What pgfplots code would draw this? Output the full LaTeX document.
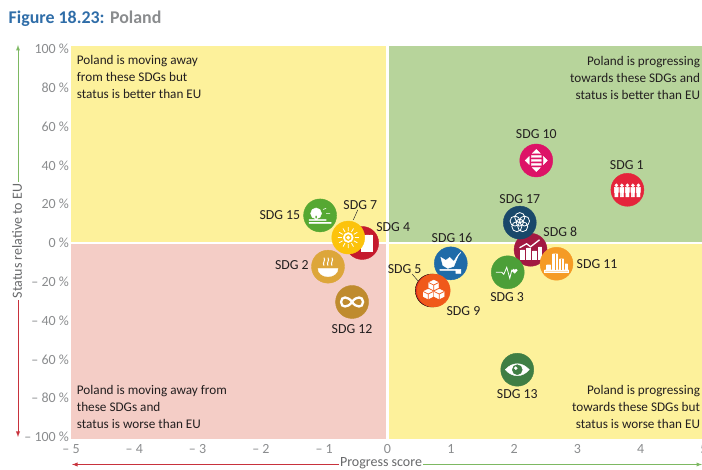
\documentclass[border=0pt]{standalone}
\usepackage{pgfplots}
\pgfplotsset{compat=1.18}
\usepackage{fontspec}
\setmainfont{Carlito}
\definecolor{qy}{HTML}{FDF19B}
\definecolor{qg}{HTML}{B7D49B}
\definecolor{qr}{HTML}{F4CDC6}
\definecolor{tk}{HTML}{8A8C8E}
\definecolor{lab}{HTML}{231F20}
\definecolor{arG}{HTML}{7DB862}
\definecolor{arR}{HTML}{C8323C}
\definecolor{sA}{HTML}{E5243B}\definecolor{sB}{HTML}{DDA63A}\definecolor{sC}{HTML}{4C9F38}
\definecolor{sD}{HTML}{C5192D}\definecolor{sE}{HTML}{E0311F}\definecolor{sF}{HTML}{FCC30B}
\definecolor{sG}{HTML}{A21942}\definecolor{sH}{HTML}{F0591A}\definecolor{sI}{HTML}{DD1367}
\definecolor{sJ}{HTML}{F59B25}\definecolor{sK}{HTML}{BF8B2E}\definecolor{sL}{HTML}{3F7E44}
\definecolor{sM}{HTML}{56A832}\definecolor{sN}{HTML}{1F6BA8}\definecolor{sO}{HTML}{19486A}
\tikzset{
 lb/.style={text=lab,font=\fontsize{13.8}{15}\selectfont,inner sep=0pt},
 qt/.style={text=lab,font=\fontsize{13.2}{17}\selectfont,inner sep=0pt},
 ic1/.pic={\fill[white] \foreach \a in {-11,-5.5,0,5.5,11}{ (\a,4.5) circle (1.6) (\a-2,2.5) rectangle (\a+2,-2.5) (\a-1.6,-2.5) rectangle (\a-.3,-7) (\a+.3,-2.5) rectangle (\a+1.6,-7)};},
 ic2/.pic={\fill[white] (-10,-2) arc (180:360:10 and 8) -- cycle;
   \draw[white,line width=1pt] \foreach \a in {-4,0,4}{(\a,1) .. controls (\a-2,4) and (\a+2,6) .. (\a,9)};},
 ic3/.pic={\draw[white,line width=.8pt] (-12,0)--(-6,0)--(-4,-2)--(-1,5)--(2,-6)--(4,2)--(6,0);\fill[white] (7,-1) -- (4.5,2) arc (180:0:1.25) arc (180:0:1.25) -- cycle;},
 ic4/.pic={\fill[white] (-1,-8) rectangle (3,8) (4,-8) rectangle (7,8) (8,-8) rectangle (10,8);},
 ic7/.pic={\fill[white] (0,0) circle (5);\fill[sF] (0,0) circle (3);\fill[white] (0,0) circle (1.7);
   \draw[white,line width=.8pt] \foreach \a in {0,30,...,330}{(\a:6.5)--(\a:10.5)};},
 ic8/.pic={\fill[white] (-10,-9) rectangle (-6,0) (-4,-9) rectangle (0,2) (2,-9) rectangle (6,-1) (8,-9) rectangle (11,3);
   \draw[white,line width=1.3pt] (-11,2)--(-4,6)--(0,3)--(9,10);},
 ic9/.pic={\fill[white] \foreach \a/\b in {0/5.5,-5.5/-3.5,5.5/-3.5}{(\a,\b+5)--(\a+5,\b+2.5)--(\a+5,\b-2.5)--(\a,\b-5)--(\a-5,\b-2.5)--(\a-5,\b+2.5)--cycle};
   \draw[sH,line width=.7pt] \foreach \a/\b in {0/5.5,-5.5/-3.5,5.5/-3.5}{(\a-5,\b+2.5)--(\a,\b)--(\a+5,\b+2.5) (\a,\b)--(\a,\b-5)};},
 ic10/.pic={\fill[white] (-5,-5) rectangle (5,-3) (-5,-1) rectangle (5,1) (-5,3) rectangle (5,5)
   (-11,0)--(-7,4)--(-7,-4)--cycle (11,0)--(7,4)--(7,-4)--cycle (0,11)--(4,7)--(-4,7)--cycle (0,-11)--(4,-7)--(-4,-7)--cycle;},
 ic11/.pic={\fill[white] (-12,-8) rectangle (12,-6) (-10,-6) rectangle (-6,-1) (-4,-6) rectangle (1,10) (3,-6) rectangle (7,5) (8.5,-6) rectangle (11,0);
   \draw[sJ,line width=.5pt] (-1.5,-6)--(-1.5,10) (5,-6)--(5,5);},
 ic12/.pic={\draw[white,line width=2.3pt] (0,0) .. controls (4,6) and (11,6) .. (11,0) .. controls (11,-6) and (4,-6) .. (0,0) .. controls (-4,6) and (-11,6) .. (-11,0) .. controls (-11,-6) and (-4,-6) .. (0,0);},
 ic13/.pic={\fill[white] (-12,0) .. controls (-5,8) and (5,8) .. (12,0) .. controls (5,-8) and (-5,-8) .. (-12,0);\fill[sL] (0,0) circle (5);\fill[white] (-1.5,1.5) circle (1.5);},
 ic15/.pic={\fill[white] (-4,2) circle (5.5) (-5,-5) rectangle (-3,0) (-11,-5) rectangle (6,-4.2) (-11,-8) rectangle (11,-6.8);
   \draw[white,line width=.6pt] (3,6)--(6,7) (6,2)--(10,2);},
 ic16/.pic={\fill[white] (-10,6)--(-5,3)--(-1,6)--(3,2)--(8,9)--(3,-3)--(-3,-5)--(-8,-2)--cycle (-11,-7) rectangle (6,-6) (5,-10) rectangle (10,-6);
   \draw[white,line width=.7pt] (5,5)--(10,11);},
 ic17/.pic={\draw[white,line width=.8pt] (0,0) circle (3.5) \foreach \a in {90,162,234,306,378}{(\a:5) circle (5)};},
}
\newcommand{\defmark}[2]{\pgfdeclareplotmark{#2}{\pgftext{\tikz[x=1pt,y=1pt]{\fill[#1] (0,0) circle (16.5);\pic{#2};}}}}
\defmark{sD}{ic4}\defmark{sM}{ic15}\defmark{sF}{ic7}\defmark{sB}{ic2}\defmark{sK}{ic12}
\defmark{sN}{ic16}\defmark{sH}{ic9}\defmark{sG}{ic8}\defmark{sO}{ic17}\defmark{sC}{ic3}
\defmark{sJ}{ic11}\defmark{sI}{ic10}\defmark{sA}{ic1}\defmark{sL}{ic13}
\newcommand{\pt}[3]{\addplot[only marks,mark=#3] coordinates {(#1,#2)};}
\begin{document}
\begin{tikzpicture}[x=1pt,y=1pt]
\path[use as bounding box] (0,0) rectangle (702,470);
\node[anchor=base west,inner sep=0pt,font=\fontsize{17.9}{20}\selectfont\bfseries] at (8.5,446) {\textcolor[HTML]{2F6DA8}{Figure 18.23:} \textcolor[HTML]{8A8C8E}{Poland}};
\begin{axis}[
 at={(71pt,31pt)},anchor=south west,scale only axis,width=633pt,height=393pt,
 xmin=-5,xmax=5,ymin=-101,ymax=101.5,clip=false,
 axis line style={draw=none},tick style={draw=none},
 xtick={-5,-4,-3,-2,-1,0,1,2,3,4,5},
 xticklabels={– 5,– 4,– 3,– 2,– 1,0,1,2,3,4,5},
 ytick={-100,-80,-60,-40,-20,0,20,40,60,80,100},
 yticklabels={– 100 \%,– 80 \%,– 60 \%,– 40 \%,– 20 \%,0 \%,20 \%,40 \%,60 \%,80 \%,100 \%},
 ticklabel style={text=tk,font=\fontsize{14}{15}\selectfont},
 xticklabel style={yshift=-2pt},yticklabel style={xshift=1.5pt}]
\addplot[fill=qy,draw=none] coordinates {(-5,0)(0,0)(0,101.5)(-5,101.5)} --cycle;
\addplot[fill=qg,draw=none] coordinates {(0,0)(5,0)(5,101.5)(0,101.5)} --cycle;
\addplot[fill=qr,draw=none] coordinates {(-5,-101)(0,-101)(0,0)(-5,0)} --cycle;
\addplot[fill=qy,draw=none] coordinates {(0,-101)(5,-101)(5,0)(0,0)} --cycle;
\addplot[white,line width=2.5pt] coordinates {(-5,0)(5,0)};
\addplot[white,line width=2.5pt] coordinates {(0,-101)(0,101.5)};
\addplot[black!80,line width=.5pt] coordinates {(-.54,11.9)(-.47,17)};
\addplot[black!80,line width=.5pt] coordinates {(.52,-21)(.39,-16)};
\pt{-0.40}{0}{ic4}
\pt{-1.065}{14.2}{ic15}
\pt{-0.62}{2.8}{ic7}
\pt{-0.94}{-12.2}{ic2}
\pt{-0.56}{-30.4}{ic12}
\pt{1.0}{-10.5}{ic16}
\addplot[only marks,mark=*,mark size=16.5pt,mark options={draw=none,fill=sE}] coordinates {(0.70,-24.5)};
\pt{0.73}{-24.5}{ic9}
\pt{2.26}{-3.5}{ic8}
\pt{2.09}{10.5}{ic17}
\pt{1.9}{-15.1}{ic3}
\pt{2.67}{-10.7}{ic11}
\pt{2.35}{42.5}{ic10}
\pt{3.79}{27.4}{ic1}
\pt{2.05}{-65.3}{ic13}
\node[lb] at (axis cs:2.35,56) {SDG 10};
\node[lb] at (axis cs:3.78,40.3) {SDG 1};
\node[lb] at (axis cs:2.09,22.8) {SDG 17};
\node[lb] at (axis cs:-1.70,14.2) {SDG 15};
\node[lb] at (axis cs:-0.43,19.6) {SDG 7};
\node[lb] at (axis cs:0.09,8.1) {SDG 4};
\node[lb] at (axis cs:1.02,2.6) {SDG 16};
\node[lb] at (axis cs:2.73,5.6) {SDG 8};
\node[lb] at (axis cs:3.31,-11.1) {SDG 11};
\node[lb] at (axis cs:-1.51,-11.6) {SDG 2};
\node[lb] at (axis cs:1.89,-28) {SDG 3};
\node[lb] at (axis cs:0.27,-13.3) {SDG 5};
\node[lb] at (axis cs:1.2,-35.1) {SDG 9};
\node[lb] at (axis cs:-0.56,-44.2) {SDG 12};
\node[lb] at (axis cs:2.05,-77.6) {SDG 13};
\node[qt,anchor=north west,align=left] at (axis cs:-4.91,97) {Poland is moving away\\from these SDGs but\\status is better than EU};
\node[qt,anchor=north east,align=right] at (axis cs:4.94,96.5) {Poland is progressing\\towards these SDGs and\\status is better than EU};
\node[qt,anchor=south west,align=left] at (axis cs:-4.91,-95.5) {Poland is moving away from\\these SDGs and\\status is worse than EU};
\node[qt,anchor=south east,align=right] at (axis cs:4.94,-95.5) {Poland is progressing\\towards these SDGs but\\status is worse than EU};
\end{axis}
\draw[arG,line width=.9pt,-latex] (18,228) -- (18,425);
\draw[arR,line width=.9pt,-latex] (18,228) -- (18,33);
\draw[arG,line width=.9pt,-latex] (388,5.5) -- (702,5.5);
\draw[arR,line width=.9pt,-latex] (388,5.5) -- (72,5.5);
\node[fill=white,inner sep=1.5pt,rotate=90,text=tk!75!black,font=\fontsize{14}{15}\selectfont] at (17,229) {Status relative to EU};
\node[fill=white,inner sep=1.5pt,text=tk!75!black,font=\fontsize{14}{15}\selectfont] at (381,6.5) {Progress score};
\end{tikzpicture}
\end{document}
